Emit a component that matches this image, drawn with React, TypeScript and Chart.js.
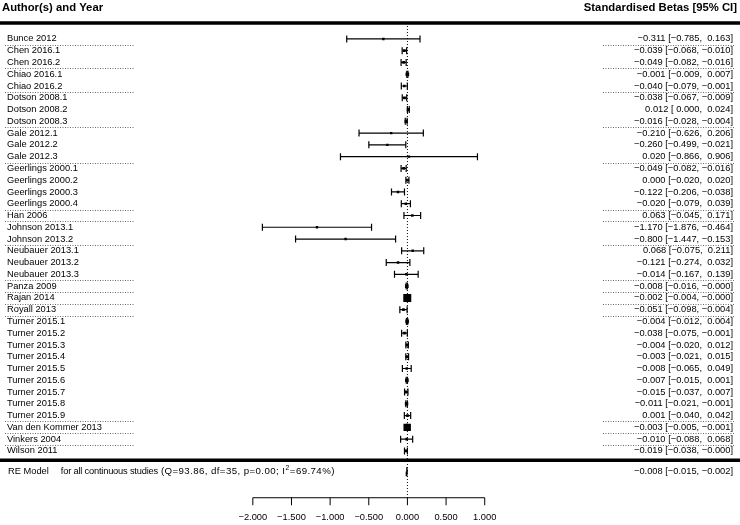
import React, { useEffect, useRef } from "react";
import { Chart, registerables } from "chart.js";

Chart.register(...registerables);

const studies = [
  "Bunce 2012", "Chen 2016.1", "Chen 2016.2", "Chiao 2016.1", "Chiao 2016.2",
  "Dotson 2008.1", "Dotson 2008.2", "Dotson 2008.3", "Gale 2012.1", "Gale 2012.2",
  "Gale 2012.3", "Geerlings 2000.1", "Geerlings 2000.2", "Geerlings 2000.3", "Geerlings 2000.4",
  "Han 2006", "Johnson 2013.1", "Johnson 2013.2", "Neubauer 2013.1", "Neubauer 2013.2",
  "Neubauer 2013.3", "Panza 2009", "Rajan 2014", "Royall 2013", "Turner 2015.1",
  "Turner 2015.2", "Turner 2015.3", "Turner 2015.4", "Turner 2015.5", "Turner 2015.6",
  "Turner 2015.7", "Turner 2015.8", "Turner 2015.9", "Van den Kommer 2013", "Vinkers 2004",
  "Wilson 2011",
];

const estimates = [
  -0.311, -0.039, -0.049, -0.001, -0.040,
  -0.038, 0.012, -0.016, -0.210, -0.260,
  0.020, -0.049, 0.000, -0.122, -0.020,
  0.063, -1.170, -0.800, 0.068, -0.121,
  -0.014, -0.008, -0.002, -0.051, -0.004,
  -0.038, -0.004, -0.003, -0.008, -0.007,
  -0.015, -0.011, 0.001, -0.003, -0.010,
  -0.019,
];

const lowerCI = [
  -0.785, -0.068, -0.082, -0.009, -0.079,
  -0.067, 0.000, -0.028, -0.626, -0.499,
  -0.866, -0.082, -0.020, -0.206, -0.079,
  -0.045, -1.876, -1.447, -0.075, -0.274,
  -0.167, -0.016, -0.004, -0.098, -0.012,
  -0.075, -0.020, -0.021, -0.065, -0.015,
  -0.037, -0.021, -0.040, -0.005, -0.088,
  -0.038,
];

const upperCI = [
  0.163, -0.010, -0.016, 0.007, -0.001,
  -0.009, 0.024, -0.004, 0.206, -0.021,
  0.906, -0.016, 0.020, -0.038, 0.039,
  0.171, -0.464, -0.153, 0.211, 0.032,
  0.139, -0.0004, -0.0004, -0.004, 0.004,
  -0.001, 0.012, 0.015, 0.049, 0.001,
  0.007, -0.001, 0.042, -0.001, 0.068,
  -0.0004,
];

const reEstimate = -0.008;
const reLower = -0.015;
const reUpper = -0.002;
const reLabelModel = "RE Model";
const reLabelDesc = "for all continuous studies";
const reLabelStats = "(Q=93.86, df=35, p=0.00; I";
const reLabelSup = "2";
const reLabelEnd = "=69.74%)";

const axisTicks = [-2, -1.5, -1, -0.5, 0, 0.5, 1];
const headerLeft = "Author(s) and Year";
const headerRight = "Standardised Betas [95% CI]";

// layout (pixels / row units)
const W = 740;
const H = 525;
const X_ZERO_PX = 408;
const X_UNIT_PX = 78.5;
const ROW0_PX = 34;
const ROW_PX = 12.03;
const XMIN = -X_ZERO_PX / X_UNIT_PX;
const XMAX = (W - X_ZERO_PX) / X_UNIT_PX;
const YMIN = -ROW0_PX / ROW_PX;
const YMAX = YMIN + H / ROW_PX;
const ROW_TOP_LINE = -1.35;
const ROW_BOTTOM_LINE = 35.79;
const ROW_RE = 36.74;
const ROW_AXIS = 38.98;

const FONT = '"Liberation Sans", Arial, Helvetica, sans-serif';
const fmt = (v: number) => v.toFixed(3).replace("-", "\u2212");
const ciText = (e: number, lo: number, hi: number) =>
  `${fmt(e)} [${lo >= 0 ? " " : ""}${fmt(lo)}, ${hi >= 0 ? " " : ""}${fmt(hi)}]`;
const author = (s: string) => s.replace(/\s+\d{4}(\.\d+)?$/, "");

const forestPlugin = {
  id: "forestText",
  beforeDatasetsDraw(chart: any) {
    const ctx = chart.ctx;
    const xs = chart.scales.x;
    const ys = chart.scales.y;
    ctx.save();
    ctx.strokeStyle = "#000";
    ctx.lineWidth = 3.5;
    ctx.setLineDash([]);
    [ROW_TOP_LINE, ROW_BOTTOM_LINE].forEach((r) => {
      const y = ys.getPixelForValue(r);
      ctx.beginPath();
      ctx.moveTo(0, y);
      ctx.lineTo(W, y);
      ctx.stroke();
    });
    const x0 = xs.getPixelForValue(0);
    ctx.lineWidth = 1;
    ctx.setLineDash([1, 2]);
    ctx.beginPath();
    ctx.moveTo(x0, ys.getPixelForValue(ROW_TOP_LINE));
    ctx.lineTo(x0, ys.getPixelForValue(ROW_AXIS));
    ctx.stroke();
    ctx.strokeStyle = "#444";
    ctx.setLineDash([1, 1.5]);
    ctx.lineWidth = 0.8;
    for (let i = 0; i < studies.length - 1; i++) {
      if (author(studies[i]) !== author(studies[i + 1])) {
        const y = Math.round(ys.getPixelForValue(i + 0.5)) + 0.5;
        ctx.beginPath();
        ctx.moveTo(5, y);
        ctx.lineTo(135, y);
        ctx.moveTo(603, y);
        ctx.lineTo(735, y);
        ctx.stroke();
      }
    }
    ctx.restore();
  },
  afterDatasetsDraw(chart: any) {
    const ctx = chart.ctx;
    const xs = chart.scales.x;
    const ys = chart.scales.y;
    ctx.save();
    ctx.fillStyle = "#000";
    ctx.font = `bold 11.3px ${FONT}`;
    ctx.textBaseline = "middle";
    ctx.textAlign = "left";
    ctx.fillText(headerLeft, 2, 8);
    ctx.textAlign = "right";
    ctx.fillText(headerRight, 737, 8);
    ctx.font = `9.3px ${FONT}`;
    studies.forEach((s, i) => {
      const y = ys.getPixelForValue(i);
      ctx.textAlign = "left";
      ctx.fillText(s, 7, y);
      ctx.textAlign = "right";
      ctx.fillText(ciText(estimates[i], lowerCI[i], upperCI[i]), 733, y);
    });
    // RE row
    const yr = ys.getPixelForValue(ROW_RE);
    ctx.textAlign = "left";
    let wx = 8;
    ctx.fillText(reLabelModel, wx, yr);
    wx += ctx.measureText(reLabelModel).width + 12;
    ctx.letterSpacing = "-0.2px";
    ctx.fillText(reLabelDesc, wx, yr);
    wx += ctx.measureText(reLabelDesc).width + 3;
    ctx.font = `9.7px ${FONT}`;
    ctx.letterSpacing = "0.4px";
    ctx.fillText(reLabelStats, wx, yr);
    wx += ctx.measureText(reLabelStats).width;
    ctx.letterSpacing = "0px";
    ctx.font = `6.8px ${FONT}`;
    ctx.fillText(reLabelSup, wx + 0.3, yr - 3.6);
    wx += ctx.measureText(reLabelSup).width + 0.8;
    ctx.font = `9.7px ${FONT}`;
    ctx.letterSpacing = "0.4px";
    ctx.fillText(reLabelEnd, wx, yr);
    ctx.letterSpacing = "0px";
    ctx.font = `9.3px ${FONT}`;
    ctx.textAlign = "right";
    ctx.fillText(ciText(reEstimate, reLower, reUpper), 733, yr);
    // axis
    const ya = ys.getPixelForValue(ROW_AXIS);
    const xa0 = xs.getPixelForValue(axisTicks[0]);
    const xa1 = xs.getPixelForValue(axisTicks[axisTicks.length - 1]);
    ctx.strokeStyle = "#000";
    ctx.lineWidth = 1;
    ctx.setLineDash([]);
    ctx.beginPath();
    ctx.moveTo(xa0, ya);
    ctx.lineTo(xa1, ya);
    axisTicks.forEach((t) => {
      const x = xs.getPixelForValue(t);
      ctx.moveTo(x, ya);
      ctx.lineTo(x, ya + 7.5);
    });
    ctx.stroke();
    ctx.textAlign = "center";
    ctx.textBaseline = "alphabetic";
    axisTicks.forEach((t) => {
      ctx.fillText(fmt(t), xs.getPixelForValue(t), ya + 22);
    });
    ctx.restore();
  },
};

export default function App() {
  const ref = useRef<HTMLCanvasElement | null>(null);
  useEffect(() => {
    if (!ref.current) return;
    const inv = upperCI.map((h, i) => 1 / (h - lowerCI[i]));
    const wMin = Math.min(...inv);
    const wMax = Math.max(...inv);
    const radii = inv.map((w) => (2.4 + 5.6 * (w - wMin) / (wMax - wMin)) / Math.SQRT2);

    const ciSets = studies.map((s, i) => ({
      label: s,
      data: [
        { x: lowerCI[i], y: i },
        { x: upperCI[i], y: i },
      ],
      showLine: true,
      borderColor: "#000",
      borderWidth: 1.2,
      pointStyle: "line",
      rotation: 90,
      pointRadius: 3.5,
      pointBorderColor: "#000",
      pointBorderWidth: 1.2,
      pointBackgroundColor: "#000",
    }));

    const squares = {
      label: "estimates",
      data: estimates.map((e, i) => ({ x: e, y: i })),
      showLine: false,
      pointStyle: "rect",
      pointRadius: radii,
      pointBackgroundColor: "#000",
      pointBorderColor: "#000",
      pointBorderWidth: 0,
    };

    const diamond = {
      label: "RE",
      data: [
        { x: reLower, y: ROW_RE },
        { x: reEstimate, y: ROW_RE - 0.36 },
        { x: reUpper, y: ROW_RE },
        { x: reEstimate, y: ROW_RE + 0.36 },
        { x: reLower, y: ROW_RE },
      ],
      showLine: true,
      borderColor: "#000",
      borderWidth: 1.2,
      backgroundColor: "#000",
      fill: false,
      pointRadius: 0,
    };

    const chart = new Chart(ref.current, {
      type: "scatter",
      data: { datasets: [...ciSets, squares, diamond] as any },
      options: {
        animation: false,
        responsive: false,
        events: [],
        layout: { padding: 0 },
        plugins: { legend: { display: false }, tooltip: { enabled: false } },
        scales: {
          x: { type: "linear", min: XMIN, max: XMAX, display: false },
          y: { type: "linear", min: YMIN, max: YMAX, reverse: true, display: false },
        },
      },
      plugins: [forestPlugin],
    });
    return () => chart.destroy();
  }, []);

  return (
    <div style={{ position: "fixed", left: 0, top: 0, width: W, height: H, background: "#fff" }}>
      <canvas ref={ref} width={W} height={H} style={{ display: "block" }} />
    </div>
  );
}
